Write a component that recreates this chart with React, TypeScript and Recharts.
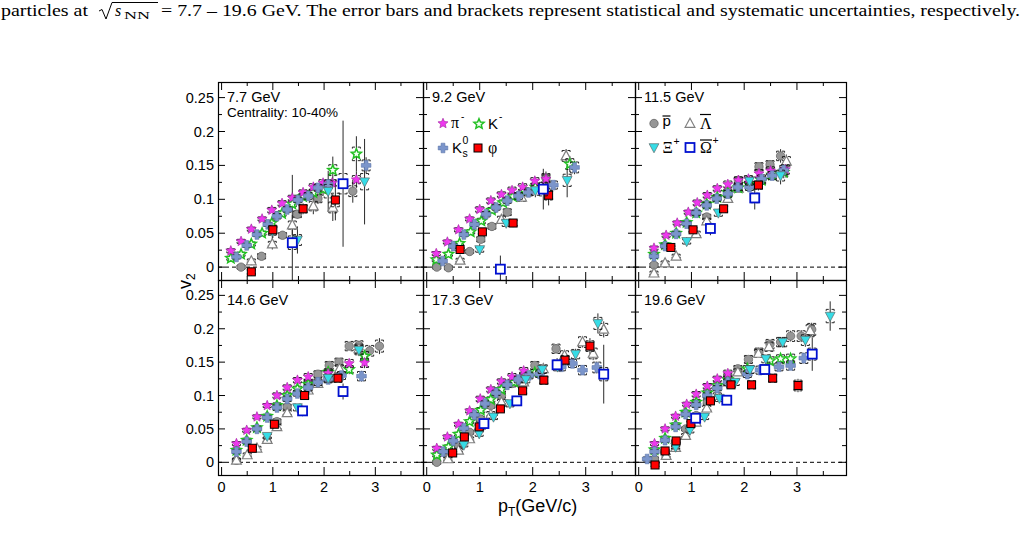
import React from "react";
import { ScatterChart, Scatter, XAxis, YAxis, ErrorBar, ReferenceLine } from "recharts";

// [pT (GeV/c), v2, stat. error, sys. error]
type Pt = [number, number, number, number];
type Kind = "pim" | "km" | "k0s" | "phi" | "pbar" | "lbar" | "xi" | "omg";

// ---- 7.7 GeV
const PIM_77: Pt[] = [[0.18,0.024,0.001,0.003],[0.38,0.038,0.001,0.003],[0.58,0.056,0.001,0.003],[0.79,0.071,0.002,0.003],[0.98,0.084,0.002,0.004],[1.18,0.094,0.003,0.004],[1.38,0.102,0.003,0.004],[1.59,0.11,0.004,0.004],[1.79,0.118,0.005,0.005],[1.98,0.124,0.006,0.005],[2.16,0.124,0.008,0.005],[2.63,0.129,0.012,0.006]];
const KM_77: Pt[] = [[0.18,0.013,0.002,0.003],[0.38,0.019,0.002,0.003],[0.58,0.034,0.002,0.003],[0.79,0.05,0.003,0.003],[0.98,0.065,0.003,0.004],[1.18,0.079,0.004,0.004],[1.38,0.093,0.005,0.004],[1.59,0.104,0.006,0.005],[1.79,0.11,0.008,0.005],[1.98,0.115,0.01,0.006],[2.17,0.143,0.02,0.008],[2.63,0.167,0.026,0.01]];
const K0S_77: Pt[] = [[0.29,0.015,0.002,0.003],[0.49,0.032,0.002,0.003],[0.69,0.048,0.002,0.003],[0.9,0.063,0.002,0.003],[1.08,0.075,0.003,0.004],[1.28,0.085,0.003,0.004],[1.49,0.099,0.004,0.004],[1.69,0.105,0.005,0.005],[1.88,0.117,0.006,0.005],[2.08,0.122,0.008,0.006],[2.82,0.15,0.012,0.008]];
const PHI_77: Pt[] = [[0.58,-0.007,0.006,0.004],[1.0,0.055,0.012,0.006],[1.59,0.086,0.008,0.006],[2.22,0.099,0.03,0.01]];
const PBAR_77: Pt[] = [[0.38,0.0,0.004,0.003],[0.78,0.016,0.004,0.004],[1.19,0.047,0.004,0.004],[1.48,0.078,0.006,0.005],[1.88,0.101,0.008,0.006],[2.56,0.112,0.017,0.008]];
const LBAR_77: Pt[] = [[0.58,0.009,0.006,0.003],[0.99,0.034,0.008,0.004],[1.38,0.062,0.015,0.006],[1.79,0.09,0.012,0.007],[2.17,0.088,0.02,0.008]];
const XI_77: Pt[] = [[0.99,0.053,0.012,0.006],[1.48,0.04,0.02,0.008],[2.08,0.112,0.03,0.01],[2.79,0.126,0.063,0.012]];
const OMG_77: Pt[] = [[1.38,0.036,0.1,0.01],[2.37,0.123,0.093,0.015]];

// ---- 9.2 GeV
const PIM_92: Pt[] = [[0.18,0.02,0.001,0.003],[0.39,0.037,0.001,0.003],[0.6,0.055,0.002,0.003],[0.81,0.071,0.002,0.003],[1.0,0.085,0.002,0.004],[1.21,0.098,0.003,0.004],[1.41,0.107,0.003,0.004],[1.61,0.113,0.004,0.005],[1.81,0.118,0.005,0.005],[2.04,0.127,0.006,0.005],[2.25,0.13,0.008,0.006]];
const KM_92: Pt[] = [[0.18,0.011,0.002,0.003],[0.41,0.019,0.002,0.003],[0.62,0.035,0.002,0.003],[0.83,0.052,0.002,0.003],[1.03,0.068,0.003,0.004],[1.23,0.084,0.003,0.004],[1.44,0.095,0.004,0.004],[1.63,0.104,0.005,0.005],[1.85,0.112,0.006,0.005],[2.05,0.118,0.007,0.006],[2.7,0.152,0.012,0.008]];
const K0S_92: Pt[] = [[0.3,0.009,0.002,0.003],[0.5,0.031,0.002,0.003],[0.7,0.048,0.002,0.003],[0.9,0.063,0.002,0.003],[1.12,0.078,0.003,0.004],[1.31,0.088,0.003,0.004],[1.52,0.098,0.004,0.004],[1.73,0.105,0.004,0.005],[1.92,0.11,0.005,0.005],[2.39,0.121,0.006,0.006],[2.79,0.147,0.01,0.008]];
const PHI_92: Pt[] = [[0.63,0.026,0.004,0.003],[1.05,0.052,0.004,0.004],[1.63,0.065,0.006,0.005],[2.3,0.106,0.015,0.007]];
const PBAR_92: Pt[] = [[0.19,0.0,0.004,0.003],[0.41,-0.001,0.002,0.003],[0.81,0.023,0.003,0.003],[1.02,0.041,0.004,0.004],[1.23,0.06,0.004,0.004],[1.52,0.081,0.005,0.005],[2.25,0.131,0.01,0.007]];
const LBAR_92: Pt[] = [[0.63,0.01,0.004,0.003],[1.41,0.07,0.005,0.005],[1.79,0.103,0.006,0.006],[2.63,0.164,0.01,0.008]];
const XI_92: Pt[] = [[1.0,0.026,0.008,0.004],[1.5,0.065,0.006,0.005],[2.05,0.113,0.01,0.007],[2.65,0.128,0.025,0.009]];
const OMG_92: Pt[] = [[1.39,-0.003,0.02,0.006],[2.2,0.115,0.03,0.01]];

// ---- 11.5 GeV
const PIM_115: Pt[] = [[0.29,0.028,0.001,0.003],[0.52,0.047,0.001,0.003],[0.73,0.065,0.001,0.003],[0.94,0.081,0.002,0.003],[1.11,0.095,0.002,0.004],[1.3,0.106,0.002,0.004],[1.49,0.116,0.003,0.004],[1.69,0.122,0.003,0.005],[1.89,0.128,0.004,0.005],[2.08,0.13,0.004,0.005],[2.28,0.138,0.005,0.006],[2.5,0.142,0.006,0.006],[2.78,0.144,0.008,0.007]];
const KM_115: Pt[] = [[0.29,0.019,0.001,0.003],[0.5,0.033,0.001,0.003],[0.71,0.05,0.002,0.003],[0.91,0.066,0.002,0.003],[1.09,0.08,0.002,0.004],[1.29,0.093,0.003,0.004],[1.49,0.103,0.003,0.004],[1.69,0.11,0.004,0.005],[1.89,0.117,0.004,0.005],[2.1,0.122,0.005,0.005],[2.33,0.128,0.006,0.006],[2.53,0.136,0.007,0.006],[2.75,0.14,0.009,0.007]];
const K0S_115: Pt[] = [[0.29,0.016,0.001,0.003],[0.5,0.031,0.001,0.003],[0.71,0.049,0.002,0.003],[0.91,0.064,0.002,0.003],[1.09,0.08,0.002,0.004],[1.29,0.091,0.002,0.004],[1.48,0.101,0.003,0.004],[1.69,0.108,0.003,0.005],[1.88,0.118,0.004,0.005],[2.1,0.118,0.004,0.005],[2.33,0.13,0.005,0.006],[2.53,0.135,0.006,0.006],[2.75,0.143,0.008,0.007]];
const PHI_115: Pt[] = [[0.61,0.029,0.003,0.003],[1.03,0.055,0.003,0.004],[1.61,0.086,0.004,0.005],[2.27,0.121,0.008,0.006]];
const PBAR_115: Pt[] = [[0.29,0.003,0.003,0.003],[1.29,0.074,0.004,0.004],[1.89,0.128,0.005,0.005],[2.28,0.148,0.006,0.006],[2.49,0.151,0.007,0.006],[2.69,0.164,0.01,0.007]];
const LBAR_115: Pt[] = [[0.29,-0.009,0.004,0.003],[0.5,0.006,0.003,0.003],[0.71,0.016,0.003,0.003],[1.09,0.049,0.004,0.004],[1.29,0.068,0.004,0.004],[1.69,0.101,0.005,0.005],[1.89,0.116,0.005,0.005],[2.8,0.156,0.01,0.007]];
const XI_115: Pt[] = [[0.91,0.038,0.006,0.004],[1.51,0.08,0.006,0.005],[2.1,0.127,0.008,0.006],[2.69,0.135,0.013,0.008]];
const OMG_115: Pt[] = [[1.36,0.057,0.01,0.005],[2.2,0.102,0.017,0.007]];

// ---- 14.6 GeV
const PIM_146: Pt[] = [[0.29,0.028,0.001,0.003],[0.49,0.048,0.001,0.003],[0.69,0.068,0.001,0.003],[0.89,0.085,0.002,0.003],[1.08,0.1,0.002,0.004],[1.28,0.112,0.002,0.004],[1.48,0.123,0.003,0.004],[1.69,0.128,0.003,0.005],[2.08,0.133,0.004,0.005],[2.49,0.148,0.006,0.006],[2.79,0.149,0.008,0.007]];
const KM_146: Pt[] = [[0.29,0.018,0.001,0.003],[0.49,0.033,0.001,0.003],[0.69,0.052,0.002,0.003],[0.89,0.069,0.002,0.003],[1.08,0.085,0.002,0.004],[1.28,0.1,0.003,0.004],[1.48,0.11,0.003,0.004],[1.69,0.117,0.004,0.005],[2.08,0.135,0.005,0.005],[2.49,0.139,0.007,0.006],[2.79,0.159,0.009,0.007]];
const K0S_146: Pt[] = [[0.29,0.016,0.001,0.003],[0.49,0.031,0.001,0.003],[0.69,0.05,0.002,0.003],[0.89,0.067,0.002,0.003],[1.08,0.082,0.002,0.004],[1.28,0.095,0.002,0.004],[1.48,0.103,0.003,0.004],[1.69,0.112,0.003,0.005],[1.88,0.12,0.004,0.005],[2.08,0.124,0.004,0.005],[2.34,0.13,0.005,0.006],[2.73,0.129,0.008,0.007]];
const PHI_146: Pt[] = [[0.6,0.021,0.003,0.003],[1.03,0.057,0.003,0.004],[1.62,0.1,0.004,0.005],[2.27,0.126,0.006,0.006]];
const PBAR_146: Pt[] = [[0.29,0.003,0.003,0.003],[1.08,0.061,0.003,0.004],[1.28,0.083,0.003,0.004],[1.69,0.119,0.004,0.005],[1.88,0.132,0.004,0.005],[2.1,0.145,0.005,0.006],[2.29,0.15,0.005,0.006],[2.49,0.174,0.006,0.007],[2.68,0.175,0.007,0.007],[2.89,0.167,0.008,0.008],[3.08,0.174,0.012,0.009]];
const LBAR_146: Pt[] = [[0.29,0.003,0.003,0.003],[0.5,0.011,0.003,0.003],[0.69,0.021,0.003,0.003],[0.89,0.034,0.003,0.004],[1.08,0.053,0.003,0.004],[1.28,0.074,0.004,0.004],[1.69,0.108,0.004,0.005],[1.88,0.118,0.005,0.005],[2.3,0.14,0.006,0.006],[2.68,0.17,0.008,0.007]];
const XI_146: Pt[] = [[0.89,0.039,0.004,0.004],[1.48,0.082,0.005,0.005],[2.08,0.126,0.006,0.006],[2.68,0.168,0.009,0.007]];
const OMG_146: Pt[] = [[1.58,0.077,0.008,0.005],[2.37,0.106,0.012,0.007]];

// ---- 17.3 GeV
const PIM_173: Pt[] = [[0.19,0.021,0.001,0.003],[0.39,0.038,0.001,0.003],[0.6,0.057,0.001,0.003],[0.81,0.077,0.002,0.003],[1.01,0.095,0.002,0.004],[1.21,0.109,0.002,0.004],[1.41,0.121,0.003,0.004],[1.61,0.128,0.003,0.005],[1.83,0.137,0.004,0.005]];
const KM_173: Pt[] = [[0.19,0.011,0.001,0.003],[0.41,0.023,0.001,0.003],[0.6,0.042,0.002,0.003],[0.81,0.061,0.002,0.003],[1.02,0.078,0.002,0.004],[1.21,0.094,0.003,0.004],[1.41,0.109,0.003,0.004],[1.65,0.12,0.004,0.005],[2.04,0.134,0.005,0.005]];
const K0S_173: Pt[] = [[0.31,0.016,0.001,0.003],[0.5,0.032,0.001,0.003],[0.7,0.051,0.002,0.003],[0.9,0.071,0.002,0.003],[1.1,0.088,0.002,0.004],[1.31,0.104,0.002,0.004],[1.52,0.116,0.003,0.004],[1.73,0.124,0.003,0.005],[1.93,0.13,0.004,0.005],[2.13,0.132,0.004,0.005],[2.54,0.143,0.005,0.006],[2.75,0.148,0.006,0.006],[2.94,0.138,0.007,0.007],[3.21,0.142,0.009,0.008]];
const PHI_173: Pt[] = [[0.49,0.014,0.003,0.003],[0.71,0.038,0.003,0.003],[0.99,0.053,0.003,0.004],[1.39,0.08,0.004,0.004],[1.81,0.107,0.005,0.005],[2.21,0.123,0.006,0.006],[2.61,0.153,0.008,0.007],[3.08,0.174,0.012,0.008]];
const PBAR_173: Pt[] = [[0.19,0.0,0.003,0.003],[0.4,0.01,0.002,0.003],[0.6,0.025,0.002,0.003],[0.81,0.045,0.002,0.003],[1.01,0.065,0.003,0.004],[1.21,0.085,0.003,0.004],[1.41,0.1,0.003,0.004],[1.61,0.118,0.004,0.005],[1.83,0.13,0.004,0.005],[2.04,0.145,0.005,0.006],[2.44,0.17,0.007,0.007]];
const LBAR_173: Pt[] = [[0.4,0.005,0.002,0.003],[0.6,0.018,0.002,0.003],[0.81,0.035,0.002,0.003],[1.01,0.055,0.003,0.004],[1.21,0.072,0.003,0.004],[1.41,0.09,0.003,0.004],[1.83,0.12,0.004,0.005],[2.2,0.14,0.005,0.006],[2.6,0.16,0.006,0.007],[2.94,0.18,0.008,0.008],[3.14,0.163,0.01,0.008],[3.34,0.199,0.012,0.009]];
const XI_173: Pt[] = [[0.7,0.026,0.003,0.003],[0.99,0.043,0.003,0.004],[1.26,0.068,0.003,0.004],[1.57,0.088,0.004,0.005],[1.87,0.124,0.004,0.005],[2.18,0.139,0.005,0.006],[2.47,0.143,0.006,0.006],[2.81,0.162,0.008,0.007],[3.23,0.208,0.015,0.009]];
const OMG_173: Pt[] = [[1.08,0.058,0.005,0.004],[1.7,0.092,0.006,0.005],[2.46,0.146,0.01,0.007],[3.34,0.132,0.044,0.01]];

// ---- 19.6 GeV
const PIM_196: Pt[] = [[0.3,0.028,0.001,0.003],[0.5,0.05,0.001,0.003],[0.7,0.069,0.001,0.003],[0.91,0.087,0.002,0.003],[1.09,0.102,0.002,0.004],[1.3,0.114,0.002,0.004],[1.49,0.125,0.003,0.004],[1.69,0.133,0.003,0.005]];
const KM_196: Pt[] = [[0.3,0.019,0.001,0.003],[0.5,0.036,0.001,0.003],[0.7,0.056,0.002,0.003],[0.89,0.075,0.002,0.003],[1.09,0.09,0.002,0.004],[1.3,0.104,0.003,0.004],[1.49,0.115,0.003,0.004],[1.69,0.124,0.004,0.005],[2.06,0.14,0.005,0.005],[2.49,0.152,0.006,0.006],[2.69,0.155,0.007,0.006],[2.88,0.155,0.008,0.007]];
const K0S_196: Pt[] = [[0.16,0.005,0.001,0.003],[0.3,0.016,0.001,0.003],[0.5,0.033,0.001,0.003],[0.7,0.053,0.002,0.003],[0.89,0.072,0.002,0.003],[1.09,0.086,0.002,0.004],[1.3,0.1,0.002,0.004],[1.49,0.111,0.003,0.004],[1.69,0.12,0.003,0.005],[2.06,0.132,0.004,0.005],[2.3,0.138,0.004,0.006],[2.66,0.143,0.005,0.006],[2.88,0.145,0.006,0.007],[3.13,0.156,0.008,0.008]];
const PHI_196: Pt[] = [[0.31,-0.004,0.004,0.003],[0.5,0.017,0.003,0.003],[0.71,0.032,0.003,0.003],[0.99,0.058,0.003,0.004],[1.36,0.092,0.004,0.004],[1.75,0.116,0.004,0.005],[2.14,0.116,0.005,0.006],[2.54,0.126,0.006,0.006],[3.02,0.115,0.01,0.008]];
const PBAR_196: Pt[] = [[0.3,0.005,0.002,0.003],[0.5,0.015,0.002,0.003],[0.7,0.03,0.002,0.003],[0.89,0.05,0.002,0.003],[1.09,0.07,0.003,0.004],[1.3,0.09,0.003,0.004],[1.49,0.113,0.003,0.004],[1.69,0.128,0.004,0.005],[1.88,0.14,0.004,0.005],[2.08,0.154,0.005,0.006],[2.28,0.165,0.005,0.006],[2.49,0.177,0.006,0.007],[2.69,0.18,0.007,0.007],[2.88,0.189,0.008,0.008],[3.08,0.189,0.009,0.008],[3.28,0.199,0.01,0.009]];
const LBAR_196: Pt[] = [[0.52,0.01,0.002,0.003],[0.7,0.022,0.002,0.003],[0.89,0.04,0.002,0.003],[1.09,0.06,0.003,0.004],[1.29,0.081,0.003,0.004],[1.49,0.1,0.003,0.004],[1.69,0.12,0.004,0.005],[1.88,0.135,0.004,0.005],[2.27,0.163,0.005,0.006],[2.47,0.173,0.006,0.007],[3.25,0.197,0.01,0.009]];
const XI_196: Pt[] = [[0.7,0.023,0.003,0.003],[0.97,0.048,0.003,0.004],[1.25,0.068,0.003,0.004],[1.53,0.096,0.004,0.005],[1.83,0.12,0.004,0.005],[2.11,0.139,0.005,0.006],[2.41,0.155,0.006,0.006],[2.73,0.18,0.007,0.007],[3.16,0.183,0.01,0.008],[3.63,0.219,0.022,0.01]];
const OMG_196: Pt[] = [[1.08,0.066,0.005,0.004],[1.67,0.093,0.006,0.005],[2.39,0.139,0.008,0.007],[3.29,0.162,0.025,0.009]];

const ENERGY_LABELS = ["7.7 GeV", "9.2 GeV", "11.5 GeV", "14.6 GeV", "17.3 GeV", "19.6 GeV"];
const X_TICKS = [0, 0.5, 1, 1.5, 2, 2.5, 3, 3.5];
const X_TICK_LABELS = ["0", "1", "2", "3"];
const Y_TICKS = [0, 0.025, 0.05, 0.075, 0.1, 0.125, 0.15, 0.175, 0.2, 0.225, 0.25];
const Y_TICK_LABELS = ["0", "0.05", "0.1", "0.15", "0.2", "0.25"];

const PANELS: Record<Kind, Pt[]>[] = [
  { pim: PIM_77, km: KM_77, k0s: K0S_77, phi: PHI_77, pbar: PBAR_77, lbar: LBAR_77, xi: XI_77, omg: OMG_77 },
  { pim: PIM_92, km: KM_92, k0s: K0S_92, phi: PHI_92, pbar: PBAR_92, lbar: LBAR_92, xi: XI_92, omg: OMG_92 },
  { pim: PIM_115, km: KM_115, k0s: K0S_115, phi: PHI_115, pbar: PBAR_115, lbar: LBAR_115, xi: XI_115, omg: OMG_115 },
  { pim: PIM_146, km: KM_146, k0s: K0S_146, phi: PHI_146, pbar: PBAR_146, lbar: LBAR_146, xi: XI_146, omg: OMG_146 },
  { pim: PIM_173, km: KM_173, k0s: K0S_173, phi: PHI_173, pbar: PBAR_173, lbar: LBAR_173, xi: XI_173, omg: OMG_173 },
  { pim: PIM_196, km: KM_196, k0s: K0S_196, phi: PHI_196, pbar: PBAR_196, lbar: LBAR_196, xi: XI_196, omg: OMG_196 },
];

// drawing order, back to front
const DRAW_ORDER: Kind[] = ["pbar", "lbar", "km", "pim", "k0s", "xi", "phi", "omg"];

const X_MIN = -0.07;
const X_MAX = 3.93;
const Y_MIN = -0.019;
const Y_MAX = 0.273;

const COLS = [
  { x: 218, w: 205 },
  { x: 423, w: 212 },
  { x: 635, w: 211 },
];
// top row keeps no room below the frame so that long error bars end at the frame
const ROWS = [
  { y: 82, h: 198, labelY: 101.5, padB: 1 },
  { y: 280, h: 195, labelY: 305, padB: 30 },
];
const PAD_L = 50;
const PAD_R = 4;
const PAD_T = 4;
const AXIS_PX = 1; // axes need a non-zero size to be drawn

const SANS = "'Liberation Sans', Arial, sans-serif";
const SERIF = "'Liberation Serif', 'Times New Roman', serif";

function starPoints(cx: number, cy: number, ro: number, ri: number) {
  const pts: string[] = [];
  for (let i = 0; i < 10; i++) {
    const r = i % 2 === 0 ? ro : ri;
    const a = -Math.PI / 2 + (i * Math.PI) / 5;
    pts.push(`${(cx + r * Math.cos(a)).toFixed(2)},${(cy + r * Math.sin(a)).toFixed(2)}`);
  }
  return pts.join(" ");
}

function crossPath(cx: number, cy: number, r: number, t: number) {
  return `M${cx - t},${cy - r}H${cx + t}V${cy - t}H${cx + r}V${cy + t}H${cx + t}V${cy + r}H${cx - t}V${cy + t}H${cx - r}V${cy - t}H${cx - t}Z`;
}

function Marker({ kind, cx, cy }: { kind: Kind; cx: number; cy: number }) {
  switch (kind) {
    case "pim":
      return <polygon points={starPoints(cx, cy, 5.3, 2.4)} fill="#ee38ee" stroke="#9c1c9c" strokeWidth={0.6} />;
    case "km":
      return <polygon points={starPoints(cx, cy, 5.3, 2.4)} fill="#f4fff4" stroke="#22c022" strokeWidth={1.5} />;
    case "k0s":
      return <path d={crossPath(cx, cy, 4.8, 1.9)} fill="#7b95cb" stroke="#5b74a8" strokeWidth={0.6} />;
    case "phi":
      return <rect x={cx - 4} y={cy - 4} width={8} height={8} fill="#ff0000" stroke="#000" strokeWidth={1} />;
    case "pbar":
      return <circle cx={cx} cy={cy} r={4.2} fill="#969696" stroke="#5c5c5c" strokeWidth={0.7} />;
    case "lbar":
      return <polygon points={`${cx},${cy - 5.3} ${cx + 4.9},${cy + 3.8} ${cx - 4.9},${cy + 3.8}`} fill="#fff" stroke="#808080" strokeWidth={1.2} />;
    case "xi":
      return <polygon points={`${cx},${cy + 5.3} ${cx + 4.9},${cy - 3.8} ${cx - 4.9},${cy - 3.8}`} fill="#36dce6" stroke="#5a6a6a" strokeWidth={0.7} />;
    case "omg":
      return <rect x={cx - 4.5} y={cy - 4.5} width={9} height={9} fill="#fff" stroke="#0010d0" strokeWidth={1.8} />;
  }
}

// systematic uncertainty drawn as small brackets above and below the point
function Brackets({ cx, cy, d }: { cx: number; cy: number; d: number }) {
  const w = 4;
  const g = 1.4;
  const h = 1.5;
  const top = cy - d;
  const bot = cy + d;
  return (
    <g stroke="#111" strokeWidth={0.9} fill="none">
      <path d={`M${cx - w},${top + h}V${top}H${cx - g}M${cx + g},${top}H${cx + w}V${top + h}`} />
      <path d={`M${cx - w},${bot - h}V${bot}H${cx - g}M${cx + g},${bot}H${cx + w}V${bot - h}`} />
    </g>
  );
}

function makeShape(kind: Kind, pxPerUnit: number) {
  return (props: any) => {
    const { cx, cy, payload } = props;
    if (cx == null || cy == null) return <g />;
    return (
      <g>
        <Brackets cx={cx} cy={cy} d={payload.sys * pxPerUnit} />
        <Marker kind={kind} cx={cx} cy={cy} />
      </g>
    );
  };
}

const toRows = (pts: Pt[]) => pts.map(([x, y, err, sys]) => ({ x, y, err, sys }));

function Panel({ idx }: { idx: number }) {
  const r = Math.floor(idx / 3);
  const c = idx % 3;
  const col = COLS[c];
  const row = ROWS[r];
  const pxPerUnit = row.h / (Y_MAX - Y_MIN);
  const plotL = PAD_L;
  const plotR = PAD_L + col.w;
  const plotT = PAD_T;
  const plotB = PAD_T + row.h;
  const showY = c === 0;
  const showX = r === 1;

  const yTick = (props: any) => {
    const { y, index } = props;
    const major = index % 2 === 0;
    const len = major ? 7 : 4;
    return (
      <g>
        <line x1={plotL} x2={plotL + len} y1={y} y2={y} stroke="#000" strokeWidth={1} />
        <line x1={plotR} x2={plotR - len} y1={y} y2={y} stroke="#000" strokeWidth={1} />
        {showY && major && (
          <text x={plotL - 4} y={y + 5} textAnchor="end" fontFamily={SANS} fontSize={14.5} fill="#000">
            {Y_TICK_LABELS[index / 2]}
          </text>
        )}
      </g>
    );
  };

  const xTick = (props: any) => {
    const { x, index } = props;
    const major = index % 2 === 0;
    const len = major ? 8 : 4;
    return (
      <g>
        <line x1={x} x2={x} y1={plotB} y2={plotB - len} stroke="#000" strokeWidth={1} />
        <line x1={x} x2={x} y1={plotT} y2={plotT + len} stroke="#000" strokeWidth={1} />
        {showX && major && X_TICK_LABELS[index / 2] && (
          <text x={x} y={plotB + 17} textAnchor="middle" fontFamily={SANS} fontSize={14.5} fill="#000">
            {X_TICK_LABELS[index / 2]}
          </text>
        )}
      </g>
    );
  };

  const series = PANELS[idx];
  return (
    <div style={{ position: "absolute", left: col.x - PAD_L, top: row.y - PAD_T }}>
      <ScatterChart
        width={col.w + PAD_L + PAD_R}
        height={row.h + PAD_T + row.padB}
        margin={{ top: PAD_T, right: PAD_R, bottom: row.padB - AXIS_PX, left: PAD_L - AXIS_PX }}
      >
        <XAxis
          type="number"
          dataKey="x"
          domain={[X_MIN, X_MAX]}
          allowDataOverflow
          ticks={X_TICKS}
          interval={0}
          height={AXIS_PX}
          tickSize={0}
          tickMargin={0}
          axisLine={false}
          tickLine={false}
          tick={xTick}
        />
        <YAxis
          type="number"
          dataKey="y"
          domain={[Y_MIN, Y_MAX]}
          allowDataOverflow
          ticks={Y_TICKS}
          interval={0}
          width={AXIS_PX}
          tickSize={0}
          tickMargin={0}
          axisLine={false}
          tickLine={false}
          tick={yTick}
        />
        <ReferenceLine y={0} stroke="#000" strokeWidth={1} strokeDasharray="4 3" />
        {DRAW_ORDER.map((kind) => (
          <Scatter
            key={kind}
            data={toRows(series[kind])}
            isAnimationActive={false}
            shape={makeShape(kind, pxPerUnit)}
          >
            <ErrorBar dataKey="err" direction="y" width={0} stroke="#2a2a2a" strokeWidth={1} />
          </Scatter>
        ))}
      </ScatterChart>
    </div>
  );
}

function Overline({ x1, x2, y }: { x1: number; x2: number; y: number }) {
  return <line x1={x1} x2={x2} y1={y} y2={y} stroke="#000" strokeWidth={1.2} />;
}

function Overlay() {
  return (
    <svg width={1026} height={551} style={{ position: "absolute", left: 0, top: 0, pointerEvents: "none" }}>
      {/* caption */}
      <g fontFamily={SERIF} fontSize={16} fill="#000">
        <text x={1} y={16} textLength={87} lengthAdjust="spacingAndGlyphs">particles at</text>
        <polyline points="99,11 102,9.5 106,19 112,2.5 158,2.5" fill="none" stroke="#000" strokeWidth={1} />
        <text x={115} y={16} fontStyle="italic">s</text>
        <text x={124} y={19} fontSize={11} textLength={26} lengthAdjust="spacingAndGlyphs">NN</text>
        <text x={161} y={16} textLength={859} lengthAdjust="spacingAndGlyphs">
          = 7.7 – 19.6 GeV. The error bars and brackets represent statistical and systematic uncertainties, respectively.
        </text>
      </g>

      {/* frames */}
      {ROWS.map((row, r) =>
        COLS.map((col, c) => (
          <rect key={`${r}-${c}`} x={col.x + 0.5} y={row.y + 0.5} width={col.w} height={row.h} fill="none" stroke="#000" strokeWidth={1.2} />
        ))
      )}

      {/* energy labels */}
      {ENERGY_LABELS.map((lab, i) => {
        const r = Math.floor(i / 3);
        const c = i % 3;
        return (
          <text key={lab} x={COLS[c].x + 9} y={ROWS[r].labelY} fontFamily={SANS} fontSize={14.5} fill="#000">
            {lab}
          </text>
        );
      })}
      <text x={227} y={117} fontFamily={SANS} fontSize={13.5} fill="#000">Centrality: 10-40%</text>

      {/* legend, first block */}
      <Marker kind="pim" cx={443} cy={123.5} />
      <text x={451} y={128} fontFamily={SERIF} fontSize={16}>π</text>
      <text x={461} y={120} fontFamily={SANS} fontSize={10}>-</text>
      <Marker kind="km" cx={479} cy={124} />
      <text x={488} y={128.5} fontFamily={SANS} fontSize={15}>K</text>
      <text x={499} y={120} fontFamily={SANS} fontSize={10}>-</text>
      <Marker kind="k0s" cx={443} cy={148} />
      <text x={452} y={153} fontFamily={SANS} fontSize={15}>K</text>
      <text x={462.5} y={144} fontFamily={SANS} fontSize={10.5}>0</text>
      <text x={462.5} y={157} fontFamily={SANS} fontSize={10.5}>s</text>
      <Marker kind="phi" cx={478} cy={148} />
      <text x={488} y={153} fontFamily={SERIF} fontSize={16}>φ</text>

      {/* legend, second block */}
      <Marker kind="pbar" cx={654} cy={123.5} />
      <text x={662.5} y={126} fontFamily={SANS} fontSize={15}>p</text>
      <Overline x1={662.5} x2={670.5} y={116} />
      <Marker kind="lbar" cx={690} cy={123.5} />
      <text x={700} y={128.5} fontFamily={SERIF} fontSize={16}>Λ</text>
      <Overline x1={700} x2={711} y={114.5} />
      <Marker kind="xi" cx={654} cy={147.5} />
      <text x={662.5} y={153} fontFamily={SERIF} fontSize={16}>Ξ</text>
      <text x={673.5} y={145} fontFamily={SANS} fontSize={10.5}>+</text>
      <Marker kind="omg" cx={690} cy={147.5} />
      <text x={700} y={153} fontFamily={SERIF} fontSize={16}>Ω</text>
      <Overline x1={700} x2={712} y={140} />
      <text x={712.5} y={144} fontFamily={SANS} fontSize={10.5}>+</text>

      {/* axis titles */}
      <text transform="translate(191,289) rotate(-90)" fontFamily={SANS} fontSize={18} fill="#000">
        v<tspan fontSize={12} dy={4}>2</tspan>
      </text>
      <text x={498} y={512} fontFamily={SANS} fontSize={18} fill="#000">
        p<tspan fontSize={12} dy={4}>T</tspan>
        <tspan dy={-4}>(GeV/c)</tspan>
      </text>
    </svg>
  );
}

export default function App() {
  return (
    <div style={{ position: "absolute", left: 0, top: 0, width: 1026, height: 551, background: "#fff" }}>
      {PANELS.map((_, i) => (
        <Panel key={i} idx={i} />
      ))}
      <Overlay />
    </div>
  );
}
